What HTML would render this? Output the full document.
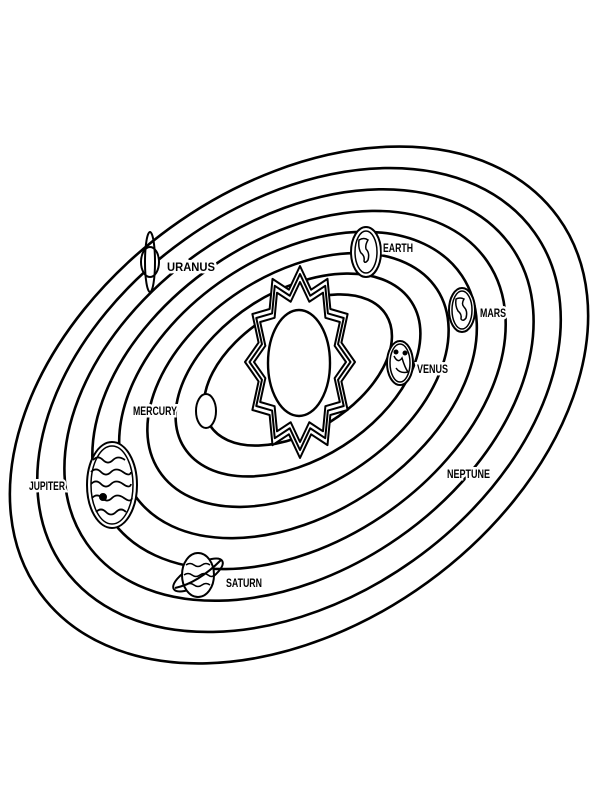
<!DOCTYPE html>
<html><head><meta charset="utf-8"><style>
html,body{margin:0;padding:0;background:#fff;}
svg{display:block;}
text{font-family:"Liberation Sans Narrow","Liberation Sans",sans-serif;font-weight:bold;font-size:12px;fill:#000;stroke:#fff;stroke-width:5px;paint-order:stroke;}
</style></head><body>
<svg width="600" height="800" viewBox="0 0 600 800" xmlns="http://www.w3.org/2000/svg">
<g fill="none" stroke="#000" stroke-width="2.6">
<ellipse cx="298" cy="370" rx="104" ry="61" transform="rotate(-32 298 370)"/>
<ellipse cx="298" cy="375" rx="135" ry="84" transform="rotate(-32.6 298 375)"/>
<ellipse cx="298" cy="380" rx="166" ry="106" transform="rotate(-33.1 298 380)"/>
<ellipse cx="298" cy="385" rx="197" ry="129" transform="rotate(-33.7 298 385)"/>
<ellipse cx="299" cy="390" rx="228" ry="151" transform="rotate(-34.3 299 390)"/>
<ellipse cx="299" cy="395" rx="259" ry="174" transform="rotate(-34.9 299 395)"/>
<ellipse cx="299" cy="400" rx="289" ry="197" transform="rotate(-35.4 299 400)"/>
<ellipse cx="299" cy="405" rx="320" ry="219" transform="rotate(-36 299 405)"/>
</g>
<defs>
<polygon id="star" vector-effect="non-scaling-stroke" style="vector-effect:non-scaling-stroke" points="1,0 .753,.202 .866,.5 .552,.552 .5,.866 .202,.753 0,1 -.202,.753 -.5,.866 -.552,.552 -.866,.5 -.753,.202 -1,0 -.753,-.202 -.866,-.5 -.552,-.552 -.5,-.866 -.202,-.753 0,-1 .202,-.753 .5,-.866 .552,-.552 .866,-.5 .753,-.202"/>
</defs>
<g stroke="#000" stroke-linejoin="round" stroke-width="2">
<g transform="translate(300 362) scale(55 96)"><use href="#star" fill="#fff"/></g>
<g transform="translate(300 362) scale(50.5 88)"><use href="#star" fill="none"/></g>
<g transform="translate(300 362) scale(46 80)"><use href="#star" fill="#fff"/></g>
<ellipse cx="299" cy="363" rx="31" ry="53" fill="#fff" stroke-width="2.4"/>
</g>
<g stroke="#000" fill="#fff" stroke-width="2">
<!-- Mercury -->
<ellipse cx="206" cy="411" rx="10" ry="17"/>
<!-- Venus -->
<ellipse cx="400" cy="363" rx="13" ry="22"/>
<ellipse cx="400" cy="363" rx="10" ry="19" stroke-width="1.5"/>
<path d="M394 356 q4 8 8 2 q3 10 6 14 q-8 2 -12 -4" fill="none" stroke-width="1.5"/>
<circle cx="396" cy="352" r="1.5" fill="#000"/><circle cx="405" cy="353" r="1.5" fill="#000"/>
<!-- Earth -->
<ellipse cx="366" cy="252" rx="15" ry="25"/>
<ellipse cx="366" cy="252" rx="11" ry="21" stroke-width="1.5"/>
<path d="M359 240 q5 -3 9 0 q-3 5 -2 9 q4 4 2 11 q-3 4 -4 1 q1 -5 -3 -8 q-3 -5 -2 -13z" fill="none" stroke-width="1.5"/>
<!-- Mars -->
<ellipse cx="462" cy="310" rx="13" ry="22"/>
<ellipse cx="462" cy="310" rx="10" ry="19" stroke-width="1.5"/>
<path d="M456 299 q4 -2 8 0 q-3 5 0 8 q4 4 2 11 q-3 4 -5 1 q1 -5 -3 -8 q-3 -5 -2 -12z" fill="none" stroke-width="1.5"/>
<!-- Jupiter -->
<ellipse cx="112" cy="485" rx="25" ry="43"/>
<ellipse cx="112" cy="485" rx="21" ry="39" stroke-width="1.5"/>
<g fill="none" stroke-width="1.8">
<path d="M93 460 q5 -5 10 0 t10 0 t12 0"/>
<path d="M91 472 q5 -5 10 0 t10 0 t12 0 t8 0"/>
<path d="M91 484 q5 -5 10 0 t10 0 t12 0 t8 0"/>
<path d="M92 498 q5 -5 10 0 t10 0 t12 0 t8 0"/>
<path d="M96 512 q5 -5 10 0 t10 0 t10 0"/>
</g>
<circle cx="103" cy="497" r="3" fill="#000"/>
<!-- Saturn -->
<ellipse cx="198" cy="575" rx="28" ry="10" transform="rotate(-30 198 575)" fill="none"/>
<ellipse cx="198" cy="575" rx="16" ry="22"/>
<g fill="none" stroke-width="1.5">
<path d="M186 565 q4 -3 8 0 t8 0 t8 0"/>
<path d="M184 575 q4 -3 8 0 t8 0 t8 0 t6 0"/>
<path d="M186 585 q4 -3 8 0 t8 0 t8 0"/>
</g>
<path d="M175 588 q23 -5 46 -28" fill="none"/>
<!-- Uranus -->
<ellipse cx="150" cy="262" rx="9" ry="15"/>
<ellipse cx="150" cy="262" rx="5" ry="30" fill="none"/>
</g>
<text x="167" y="271" textLength="48" lengthAdjust="spacingAndGlyphs" font-size="14">URANUS</text>
<text x="383" y="252" textLength="30" lengthAdjust="spacingAndGlyphs">EARTH</text>
<text x="480" y="317" textLength="26" lengthAdjust="spacingAndGlyphs">MARS</text>
<text x="417" y="373" textLength="31" lengthAdjust="spacingAndGlyphs">VENUS</text>
<text x="133" y="415" textLength="44" lengthAdjust="spacingAndGlyphs">MERCURY</text>
<text x="29" y="490" textLength="36" lengthAdjust="spacingAndGlyphs">JUPITER</text>
<text x="226" y="587" textLength="36" lengthAdjust="spacingAndGlyphs">SATURN</text>
<text x="447" y="478" textLength="43" lengthAdjust="spacingAndGlyphs">NEPTUNE</text>
</svg>
</body></html>
